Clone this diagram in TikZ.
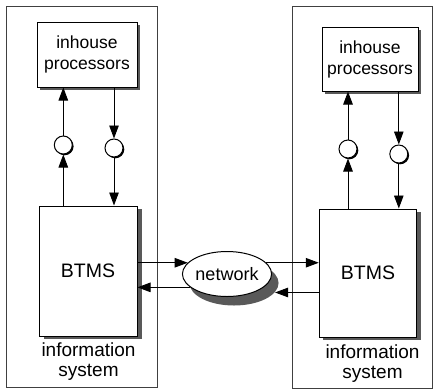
\documentclass[tikz,border=0pt]{standalone}
\usepackage{fontspec}
\setmainfont{Liberation Sans}
\usetikzlibrary{shapes.geometric,shadows,arrows.meta}

\begin{document}
\begin{tikzpicture}[x=1pt,y=-1pt,
  container/.style={draw=black!75, line width=0.7pt, inner sep=0pt},
  procbox/.style={draw, line width=1pt, fill=white, inner sep=0pt, align=center,
    font=\fontsize{17.5}{21}\selectfont,
    drop shadow={shadow xshift=3pt, shadow yshift=-3pt, fill=black!65, opacity=1}},
  btmsbox/.style={draw, line width=1pt, fill=white, inner sep=0pt,
    font=\fontsize{19.5}{22}\selectfont},
  port/.style={circle, draw, line width=1pt, fill=white, minimum size=18pt, inner sep=0pt,
    drop shadow={shadow xshift=1.3pt, shadow yshift=-1.3pt, fill=black, opacity=1}},
  netnode/.style={ellipse, draw, line width=1pt, fill=white, minimum width=80pt,
    minimum height=45pt, inner sep=0pt, font=\fontsize{18}{20}\selectfont,
    drop shadow={shadow xshift=7pt, shadow yshift=-9pt, fill=black!65, opacity=1}},
  infotext/.style={inner sep=0pt, align=center, font=\fontsize{19}{20}\selectfont},
  arr/.style={line width=0.9pt, -{Triangle[length=13pt,width=9.5pt]}}
]
\useasboundingbox (0,0) rectangle (435,391);

% the two information systems
\node[container, minimum width=150.3pt, minimum height=381pt] (sysL) at (81.85,196.5) {};
\node[container, minimum width=139.7pt, minimum height=382pt] (sysR) at (362.15,197) {};

% in-house processors
\node[procbox, minimum width=100pt, minimum height=65pt] (ihL) at (87,54.5) {inhouse\\processors};
\node[procbox, minimum width=96pt, minimum height=64pt] (ihR) at (370,59) {inhouse\\processors};

% BTMS blocks
\node[btmsbox, minimum width=98pt, minimum height=130pt,
  drop shadow={shadow xshift=5pt, shadow yshift=-3pt, fill=black!65, opacity=1}]
  (btmsL) at (88,271) {BTMS};
\node[btmsbox, minimum width=97.5pt, minimum height=128pt,
  drop shadow={shadow xshift=4pt, shadow yshift=-3pt, fill=black!65, opacity=1}]
  (btmsR) at (368,273) {BTMS};

% ports between processors and BTMS
\node[port] (cLu) at (63.3,145) {};
\node[port] (cLd) at (114,148) {};
\node[port] (cRu) at (348,149) {};
\node[port] (cRd) at (398.8,154) {};

% network, with the point where the return link meets its shadow
\node[netnode] (net) at (227,274) {network};
\coordinate (netsh) at ([shift={(7,9)}]net.347);

% labels
\node[infotext, anchor=north] (infoL) at (88.5,343) {information\\system};
\node[infotext, anchor=north] (infoR) at (372.5,344.5) {information\\system};

% left side flows
\draw[arr] (btmsL.north -| cLu) -- (cLu.south);
\draw[arr] (cLu.north) -- (ihL.south -| cLu);
\draw[arr] (ihL.south -| cLd) -- (cLd.north);
\draw[arr] (cLd.south) -- (btmsL.north -| cLd);

% right side flows
\draw[arr] (btmsR.north -| cRu) -- (cRu.south);
\draw[arr] (cRu.north) -- (ihR.south -| cRu);
\draw[arr] (ihR.south -| cRd) -- (cRd.north);
\draw[arr] (cRd.south) -- (btmsR.north -| cRd);

% network links
\draw[arr] (btmsL.east |- net.164) -- (net.164);
\draw[arr] (net.200) -- (btmsL.east |- net.200);
\draw[arr] (net.16) -- (net.16 -| btmsR.west);
\draw[arr] (btmsR.west |- netsh) -- (netsh);
\end{tikzpicture}
\end{document}
